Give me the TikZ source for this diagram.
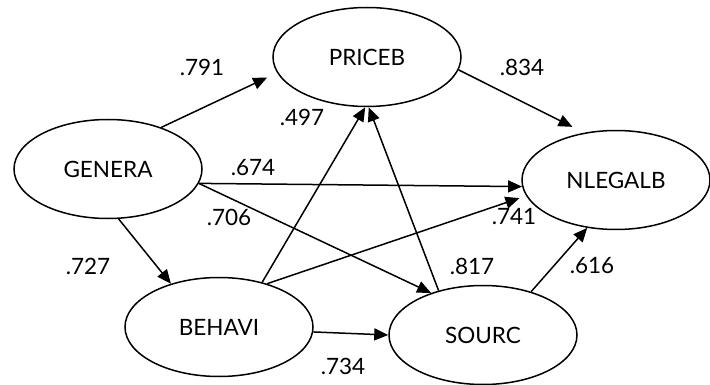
\documentclass[tikz,border=0pt]{standalone}
\usepackage{fontspec}
\setmainfont{Lato}
\usetikzlibrary{shapes.geometric, arrows.meta}
\tikzset{
latent/.style={draw, ellipse, line width=1.5pt, minimum width=188pt, minimum height=99pt, inner sep=0pt, font=\fontsize{22.5}{22.5}\selectfont},
coef/.style={inner sep=0pt, font=\fontsize{22.5}{22.5}\selectfont},
eff/.style={line width=1.5pt, -{Triangle[length=14pt,width=12pt]}},
}

\begin{document}
\begin{tikzpicture}[x=1pt, y=-1pt]
    \useasboundingbox (0,0) rectangle (710,385);

    \node[latent] (genera) at (108,169) {GENERA};
    \node[latent] (priceb) at (367,57) {PRICEB};
    \node[latent] (nlegalb) at (616,180) {NLEGALB};
    \node[latent] (behavi) at (219,327) {BEHAVI};
    \node[latent] (sourc) at (483,335) {SOURC};

    %lables
    \node[coef] (c791) at (202,67) {.791};
    \node[coef] (c497) at (302,117) {.497};
    \node[coef] (c674) at (253,168) {.674};
    \node[coef] (c834) at (522,67) {.834};
    \node[coef] (c706) at (229,217) {.706};
    \node[coef] (c727) at (88,266) {.727};
    \node[coef] (c741) at (514,217) {.741};
    \node[coef] (c817) at (472,266) {.817};
    \node[coef] (c616) at (592,266) {.616};
    \node[coef] (c734) at (343,366) {.734};

    \draw[eff, shorten >=11pt] (genera.38) -- (priceb.190);
    \draw[eff, shorten >=13pt] (priceb.-8) -- (nlegalb.124);
    \draw[eff] (genera.-9) -- (nlegalb.184);
    \draw[eff] (genera.-9) -- (sourc.141);
    \draw[eff] (genera.-78) -- (behavi.138);
    \draw[eff] (behavi.46) -- (priceb.-92);
    \draw[eff, shorten >=7pt] (behavi.42) -- (nlegalb.190);
    \draw[eff] (sourc.135) -- (priceb.-88);
    \draw[eff] (behavi.-3) -- (sourc.west);
    \draw[eff] (sourc.42) -- (nlegalb.239);
\end{tikzpicture}
\end{document}
